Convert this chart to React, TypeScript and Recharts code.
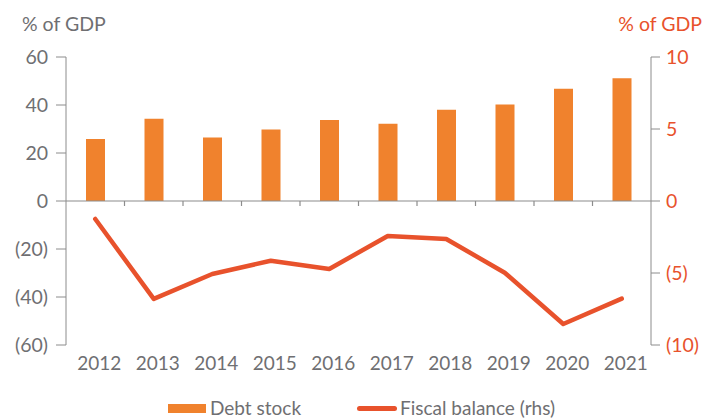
import React from 'react';
import {
  Bar,
  ComposedChart,
  Legend,
  Line,
  ReferenceLine,
  XAxis,
  YAxis,
} from 'recharts';

const years = ['2012', '2013', '2014', '2015', '2016', '2017', '2018', '2019', '2020', '2021'];
const debtStock = [25.8, 34.3, 26.5, 29.8, 33.8, 32.2, 38.0, 40.2, 46.8, 51.1];
const fiscalBalance = [-1.25, -6.8, -5.07, -4.15, -4.72, -2.43, -2.64, -4.98, -8.54, -6.78];
const leftTicks = [-60, -40, -20, 0, 20, 40, 60];
const rightTicks = [-10, -5, 0, 5, 10];

const GREY = '#6f6f72';
const AXIS = '#8c8c8c';
const BAR = '#F0822D';
const LINE = '#E8522C';
const FONT = 'Lato, "Open Sans", sans-serif';

const PLOT_H = 288;
const BAND = 58.5;

const fmt = (v: number) => (v < 0 ? `(${Math.abs(v)})` : `${v}`);

const data = years.map((year, i) => ({
  year,
  debt: debtStock[i],
  fiscal: fiscalBalance[i],
}));

function XTick(props: any) {
  const { x, y, payload, index } = props;
  const zeroY = y - PLOT_H / 2;
  return (
    <g>
      <text
        x={x + 4}
        y={y + 17}
        textAnchor="middle"
        dominantBaseline="central"
        fill={GREY}
        fontSize={19}
        fontFamily={FONT}
      >
        {payload.value}
      </text>
      {index < years.length - 1 && (
        <line x1={x + BAND / 2} x2={x + BAND / 2} y1={zeroY} y2={zeroY + 5} stroke={AXIS} strokeWidth={1.2} />
      )}
    </g>
  );
}

function LegendBox() {
  return (
    <div style={{ position: 'relative', width: 705, height: 24, fontFamily: FONT, fontSize: 19, color: GREY }}>
      <div style={{ position: 'absolute', left: 168, top: 10, width: 38, height: 9, background: BAR }} />
      <div style={{ position: 'absolute', left: 210, top: 2, lineHeight: '24px' }}>Debt stock</div>
      <div style={{ position: 'absolute', left: 357, top: 12, width: 40, height: 5, borderRadius: 3, background: LINE }} />
      <div style={{ position: 'absolute', left: 400, top: 2, lineHeight: '24px' }}>Fiscal balance (rhs)</div>
    </div>
  );
}

export default function App() {
  return (
    <div style={{ position: 'absolute', left: 0, top: 0, width: 705, height: 418, background: '#fff', fontFamily: FONT }}>
      <div style={{ position: 'absolute', left: 22, top: 12, fontSize: 19.5, color: GREY, lineHeight: '24px' }}>% of GDP</div>
      <div style={{ position: 'absolute', right: 3, top: 12, fontSize: 19.5, color: LINE, lineHeight: '24px' }}>% of GDP</div>
      <ComposedChart width={705} height={418} data={data} margin={{ top: 57, right: 0, bottom: 0, left: 0 }}>
        <XAxis
          dataKey="year"
          height={49}
          axisLine={false}
          tickLine={false}
          tickSize={0}
          tickMargin={0}
          interval={0}
          tick={<XTick />}
        />
        <YAxis
          yAxisId="left"
          domain={[-60, 60]}
          ticks={leftTicks}
          tickFormatter={fmt}
          width={66}
          tickSize={10}
          tickMargin={8}
          stroke={AXIS}
          tick={{ fill: GREY, fontSize: 19.5, fontFamily: FONT }}
          interval={0}
        />
        <YAxis
          yAxisId="right"
          orientation="right"
          domain={[-10, 10]}
          ticks={rightTicks}
          tickFormatter={fmt}
          width={54}
          tickSize={9}
          tickMargin={6}
          stroke={AXIS}
          tick={{ fill: LINE, fontSize: 19.5, fontFamily: FONT }}
          interval={0}
        />
        <ReferenceLine yAxisId="left" y={0} stroke={AXIS} strokeWidth={1.2} />
        <Bar yAxisId="left" dataKey="debt" name="Debt stock" fill={BAR} barSize={19} isAnimationActive={false} />
        <Line
          yAxisId="right"
          dataKey="fiscal"
          name="Fiscal balance (rhs)"
          stroke={LINE}
          strokeWidth={4.5}
          strokeLinecap="round"
          strokeLinejoin="round"
          dot={false}
          activeDot={false}
          isAnimationActive={false}
        />
        <Legend verticalAlign="bottom" height={24} wrapperStyle={{ left: 0, width: 705 }} content={<LegendBox />} />
      </ComposedChart>
    </div>
  );
}
